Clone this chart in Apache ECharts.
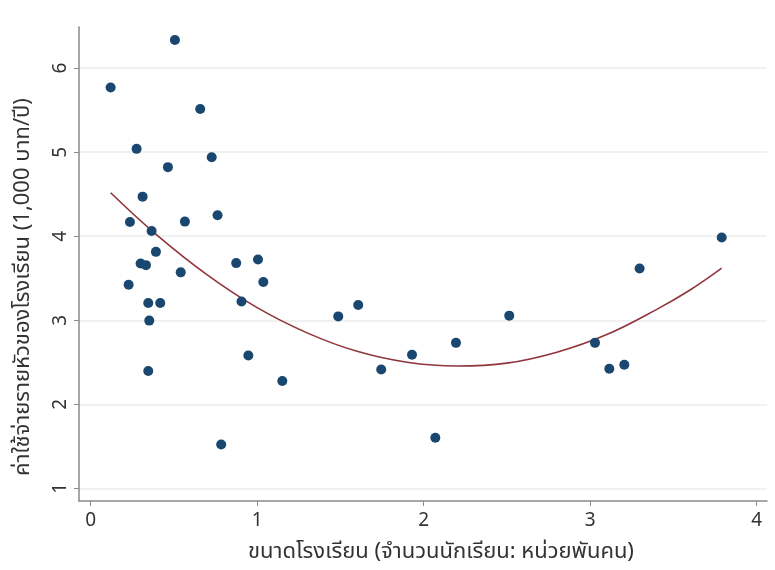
<!DOCTYPE html>
<html>
<head>
<meta charset="utf-8">
<script src="https://cdn.jsdelivr.net/npm/echarts@6/dist/echarts.min.js"></script>
<style>
html,body{margin:0;padding:0;background:#fff;}
#chart{width:775px;height:570px;}
</style>
</head>
<body>
<div id="chart"></div>
<script>
// School size (thousand students)
const schoolSize = [0.120,0.506,0.658,0.276,0.727,0.464,0.312,0.762,0.236,0.566,0.366,0.392,0.300,0.332,0.541,0.874,1.005,1.037,0.228,0.346,0.418,0.352,0.906,0.346,0.947,0.784,1.151,1.487,1.607,1.745,1.930,2.070,2.194,2.514,3.029,3.115,3.205,3.297,3.790];
// Per-student spending (1,000 baht / year)
const spending = [5.771,6.336,5.514,5.040,4.940,4.822,4.471,4.249,4.170,4.174,4.063,3.814,3.676,3.656,3.570,3.680,3.724,3.455,3.423,3.206,3.206,2.996,3.223,2.396,2.581,1.522,2.277,3.046,3.182,2.415,2.589,1.601,2.731,3.055,2.731,2.423,2.470,3.617,3.985];
// Fitted curve
const fitX = [0.12,0.4,0.7,1.0,1.3,1.6,1.9,2.2,2.5,2.8,3.1,3.4,3.6,3.79];
const fitY = [4.518,4.01,3.54,3.15,2.85,2.63,2.50,2.455,2.49,2.62,2.83,3.13,3.36,3.62];
const xTicks = [0,1,2,3,4];
const yTicks = [1,2,3,4,5,6];
const xTitle = 'ขนาดโรงเรียน (จำนวนนักเรียน: หน่วยพันคน)';
const yTitle = 'ค่าใช้จ่ายรายหัวของโรงเรียน (1,000 บาท/ปี)';

const FONT = "Tahoma, 'Noto Sans Thai', 'Noto Sans', sans-serif";
const chart = echarts.init(document.getElementById('chart'));
chart.setOption({
  animation:false,
  backgroundColor:'#ffffff',
  grid:{left:79,right:8,top:27,bottom:67},
  xAxis:{
    type:'value', min:-0.070, max:4.062,
    name:xTitle, nameLocation:'middle', nameGap:42,
    nameTextStyle:{fontFamily:FONT,fontSize:22,color:'#333',padding:[0,0,0,36]},
    axisLine:{show:true,onZero:false,lineStyle:{color:'#8a8a8a',width:1.5}},
    axisTick:{show:true,length:5,customValues:xTicks,lineStyle:{color:'#8a8a8a'}},
    axisLabel:{customValues:xTicks,fontFamily:FONT,fontSize:19,color:'#333',margin:12},
    splitLine:{show:false}
  },
  yAxis:{
    type:'value', min:0.849, max:6.490,
    name:yTitle, nameLocation:'middle', nameGap:43, nameRotate:90,
    nameTextStyle:{fontFamily:FONT,fontSize:22,color:'#333',padding:[0,46,0,0]},
    axisLine:{show:true,onZero:false,lineStyle:{color:'#8a8a8a',width:1.5}},
    axisTick:{show:true,length:5,customValues:yTicks,lineStyle:{color:'#8a8a8a'}},
    axisLabel:{customValues:yTicks,rotate:90,fontFamily:FONT,fontSize:19,color:'#333',margin:7},
    splitLine:{show:true,lineStyle:{color:'#ececec',width:1.5}}
  },
  series:[
    {type:'line',data:fitX.map((x,i)=>[x,fitY[i]]),smooth:0.4,symbol:'none',
     lineStyle:{color:'#90353b',width:1.6},z:3},
    {type:'scatter',data:schoolSize.map((x,i)=>[x,spending[i]]),symbolSize:10,
     itemStyle:{color:'#1a476f',opacity:1},z:4}
  ]
});
</script>
</body>
</html>
